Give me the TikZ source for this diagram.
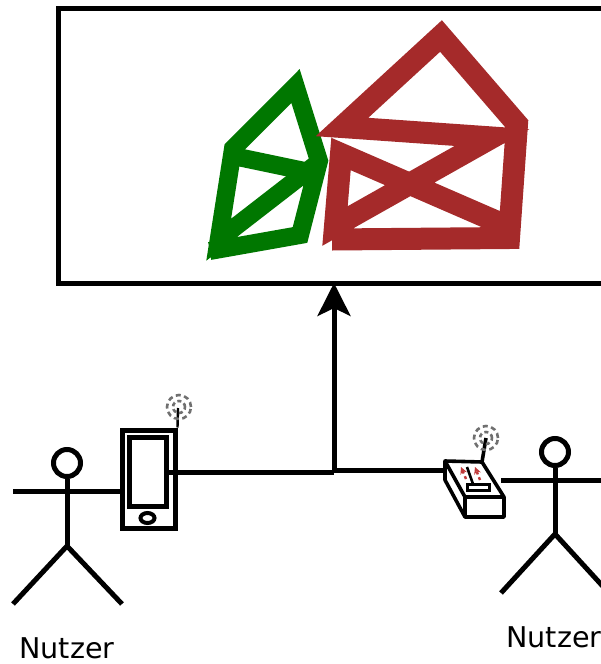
\documentclass[tikz,border=0pt]{standalone}
\usepackage{fontspec}
\setmainfont{DejaVu Sans}
\usepackage{xcolor}
\usetikzlibrary{arrows.meta, calc, shapes.geometric}
\definecolor{hsBrown}{HTML}{A52A2A}
\definecolor{hsGreen}{HTML}{007700}
\definecolor{hsGray}{HTML}{707070}
\definecolor{hsRed}{HTML}{C03A3A}
\tikzset{
  screenbox/.style={
    rectangle, draw=black, line width=5pt, fill=white, outer sep=0pt,
    minimum width=582pt, minimum height=275pt, inner sep=0pt
  },
  phonebox/.style={
    rectangle, draw=black, line width=#1, inner sep=0pt
  },
  userhead/.style={
    circle, draw=black, line width=5pt, fill=white,
    minimum size=27pt, inner sep=0pt
  },
  wire/.style={black, line width=5pt},
  thinwire/.style={black, line width=3.6pt, line join=round},
  thickarrow/.style={
    -{Stealth[length=33pt, width=33pt, inset=8pt]},
    black, line width=5pt
  },
  brownline/.style={hsBrown, line width=22pt, miter limit=10},
  greenline/.style={hsGreen, line width=18pt, miter limit=10},
  radiowave/.style={hsGray, line width=2.6pt, dash pattern=on 5pt off 3.5pt},
  username/.style={font=\fontsize{28.6}{32}\selectfont, text=black}
}
\begin{document}
\begin{tikzpicture}[x=1pt, y=-1pt]
  \useasboundingbox (0,0) rectangle (601,664);
  \clip (0,0) rectangle (601,664);
  \node[screenbox] (screen) at (349,145.5) {};

  % green drawing
  \draw[greenline] (209.7,251) -- (300,235) -- (319,161) -- (295.5,86) -- (233,148.7) -- (218.7,239.7) -- (319,162);
  \draw[greenline] (233,156) -- (319,174);
  % brown drawing
  \draw[brownline] (332,239.5) -- (509,238) -- (517,124) -- (441,36) -- (342,127) -- (492,137.5) -- (335,226) -- (341,154) -- (509,227);

  % left user
  \node[userhead] (headA) at (67,463) {};
  \coordinate (hipA) at (67,546);
  \draw[wire] (headA) -- (hipA);
  \draw[wire] (13,604) -- (hipA) -- (122,604);
  \draw[wire] (13,491) -- (122,491);
  \node[username] (userA) at (67,648) {Nutzer};

  % right user
  \node[userhead] (headB) at (555,452) {};
  \coordinate (hipB) at (555,534);
  \draw[wire] (headB) -- (hipB);
  \draw[wire] (501,593) -- (hipB) -- (609,593);
  \draw[wire] (501,480) -- (610,480);
  \node[username] (userB) at (554,637) {Nutzer};

  % phone
  \node[phonebox=5pt, fill=white, minimum width=53pt, minimum height=98pt] (phone) at (148.5,479) {};
  \node[phonebox=5pt, minimum width=37pt, minimum height=69pt] (display) at (147.5,471.5) {};
  \node[ellipse, draw=black, line width=4pt, minimum width=14pt, minimum height=10pt, inner sep=0pt] (button) at (147.5,518) {};
  \coordinate (aerialA) at (178,408);
  \draw[black, line width=2.4pt] (phone.north east) -- (aerialA);
  \draw[radiowave] (179,407) circle (12pt);
  \draw[radiowave, dash pattern=on 4pt off 3pt] (179,407) circle (6pt);

  % remote
  \coordinate (r1) at (445,461);
  \coordinate (r2) at (482,462);
  \coordinate (r3) at (504,497);
  \coordinate (r4) at (465,497);
  \coordinate (r5) at (465,517);
  \coordinate (r6) at (504,517);
  \coordinate (r7) at (445,480);
  \draw[thinwire, fill=white] (r1) -- (r2) -- (r3) -- (r6) -- (r5) -- (r7) -- cycle;
  \draw[thinwire] (r1) -- (r4) -- (r3);
  \draw[thinwire] (r4) -- (r5);
  \coordinate (aerialB) at (486,438);
  \draw[black, line width=3.6pt] (r2) -- (aerialB);
  \draw[radiowave] (486,438) circle (12pt);
  \draw[radiowave, dash pattern=on 4pt off 3pt] (486,438) circle (6pt);
  \draw[hsRed, line width=2.4pt, dashed, -{Stealth[length=7pt, width=7pt]}] (466,479) -- (461,467);
  \draw[hsRed, line width=2.4pt, dashed, -{Stealth[length=7pt, width=7pt]}] (480,480) -- (475,467);
  \draw[black, line width=2.6pt] (467,467) -- (473,484);
  \node[phonebox=3pt, fill=white, minimum width=22pt, minimum height=6pt] (slot) at (478,487) {};

  % connection
  \coordinate (joinA) at (334,472);
  \coordinate (joinB) at (334,470);
  \draw[wire] (168,472) -- (joinA);
  \draw[wire] (joinB) -- (r1 |- joinB);
  \draw[thickarrow] (joinA) -- (joinA |- screen.south);
\end{tikzpicture}
\end{document}
